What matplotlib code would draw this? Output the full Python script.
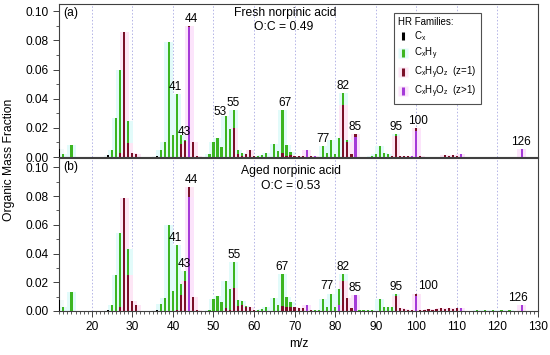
import numpy as np
import matplotlib.pyplot as plt
from matplotlib.lines import Line2D
from matplotlib.ticker import MultipleLocator, FormatStrFormatter

plt.rcParams['font.family'] = ['Liberation Sans', 'DejaVu Sans']
plt.rcParams['mathtext.fontset'] = 'custom'
plt.rcParams['mathtext.rm'] = 'Liberation Sans'

# m/z axis
mz = np.arange(12, 131)

# ---- (a) fresh norpinic acid, values per family (sparse: m/z, fraction)
fresh_cx_mz = [12, 24, 36]
fresh_cx = [0.0055, 0.0012, 0.0007]

fresh_hy_mz = [13, 15, 25, 26, 27, 29, 37, 38, 39, 40, 41, 42, 43, 49, 50, 51, 52, 53, 54, 55,
               56, 57, 61, 62, 63, 65, 66, 67, 68, 69, 77, 78, 79, 80, 81, 82, 83, 89, 90, 91,
               92, 93, 95]
fresh_hy = [0.002, 0.008, 0.005, 0.027, 0.057, 0.015, 0.005, 0.0105, 0.079, 0.015, 0.043, 0.006,
            0.001, 0.002, 0.010, 0.013, 0.007, 0.028, 0.019, 0.012, 0.003, 0.002, 0.001, 0.0015,
            0.0025, 0.009, 0.004, 0.029, 0.007, 0.002, 0.0076, 0.003, 0.012, 0.002, 0.013, 0.008,
            0.001, 0.001, 0.002, 0.0076, 0.003, 0.002, 0.0015]

fresh_o1_mz = [27, 28, 29, 30, 31, 42, 43, 44, 46, 45, 55, 56, 57, 58, 59, 60, 67, 68, 69, 70,
               71, 72, 74, 82, 83, 84, 85, 94, 95, 96, 97, 98, 100, 101, 107, 108, 109, 110]
fresh_o1 = [0.003, 0.086, 0.0095, 0.0025, 0.002, 0.009, 0.011, 0.001, 0.001, 0.010, 0.020, 0.002,
            0.001, 0.002, 0.0045, 0.001, 0.003, 0.001, 0.0015, 0.001, 0.001, 0.001, 0.001, 0.036,
            0.0105, 0.002, 0.002, 0.001, 0.0145, 0.001, 0.001, 0.001, 0.002, 0.001, 0.0015, 0.001,
            0.0015, 0.001]

fresh_oz_mz = [44, 73, 75, 85, 99, 100, 111, 126]
fresh_oz = [0.089, 0.0045, 0.001, 0.014, 0.001, 0.018, 0.002, 0.0055]

# ---- (b) aged norpinic acid
aged_cx_mz = [12, 24, 36]
aged_cx = [0.0075, 0.001, 0.0007]

aged_hy_mz = [13, 15, 25, 26, 27, 29, 37, 38, 39, 40, 41, 42, 43, 49, 50, 51, 52, 53, 54, 55,
              56, 57, 58, 61, 62, 63, 65, 66, 67, 68, 69, 75, 76, 77, 78, 79, 80, 81, 82, 86,
              87, 88, 89, 91, 92, 93, 94, 95, 115, 117, 119, 121, 123]
aged_hy = [0.003, 0.013, 0.0045, 0.025, 0.051, 0.018, 0.0046, 0.009, 0.060, 0.014, 0.045, 0.008,
           0.007, 0.001, 0.0086, 0.0104, 0.0063, 0.019, 0.0145, 0.018, 0.004, 0.003, 0.001, 0.001,
           0.0015, 0.003, 0.0088, 0.004, 0.022, 0.007, 0.004, 0.001, 0.001, 0.008, 0.003, 0.0116,
           0.003, 0.0105, 0.0045, 0.001, 0.001, 0.001, 0.001, 0.008, 0.003, 0.003, 0.0025, 0.001,
           0.0005, 0.0005, 0.0005, 0.0005, 0.0005]

aged_o1_mz = [27, 28, 29, 30, 31, 41, 42, 43, 44, 45, 46, 53, 54, 55, 56, 57, 58, 59, 60, 67,
              68, 69, 70, 71, 72, 74, 82, 83, 84, 95, 96, 97, 98, 99, 100, 101, 102, 103, 104,
              105, 106, 107, 108, 109, 110]
aged_o1 = [0.003, 0.0786, 0.025, 0.0067, 0.004, 0.001, 0.011, 0.021, 0.007, 0.0095, 0.001, 0.002,
           0.001, 0.016, 0.0035, 0.004, 0.0025, 0.003, 0.001, 0.0035, 0.0025, 0.0025, 0.003,
           0.002, 0.002, 0.001, 0.021, 0.0088, 0.002, 0.0105, 0.002, 0.0015, 0.001, 0.001, 0.001,
           0.001, 0.001, 0.0015, 0.001, 0.0015, 0.002, 0.0015, 0.002, 0.0015, 0.002]

aged_oz_mz = [44, 73, 81, 85, 100, 111, 126]
aged_oz = [0.079, 0.004, 0.0045, 0.011, 0.0105, 0.002, 0.004]

family_names = [r'C$_\mathrm{x}$', r'C$_\mathrm{x}$H$_\mathrm{y}$',
                r'C$_\mathrm{x}$H$_\mathrm{y}$O$_\mathrm{z}$  (z=1)',
                r'C$_\mathrm{x}$H$_\mathrm{y}$O$_\mathrm{z}$  (z>1)']

fresh_labels = [41, 43, 44, 53, 55, 67, 77, 82, 85, 95, 100, 126]
aged_labels = [41, 43, 44, 55, 67, 77, 82, 85, 95, 100, 126]

# styling
bar_colors = {'cx': '#000000', 'hy': '#3cb521', 'o1': '#7a1028', 'oz': '#a53ad8'}
halo_colors = {'cx': '#f2fafa', 'hy': '#e2fbfa', 'o1': '#fde6f5', 'oz': '#fce4fb'}
fresh_offsets = {41: (-0.4, 0.0), 43: (-0.3, 0.0), 44: (0.5, 0.0), 53: (-1.4, -0.002),
                 55: (-0.2, 0.0), 67: (0.6, 0.0), 100: (0.5, 0.0), 126: (-0.3, 0.0)}
aged_offsets = {41: (-0.4, 0.0), 43: (-0.3, 0.0), 44: (0.5, 0.0), 77: (1.0, 0.0045),
                100: (2.8, 0.0012), 126: (-1.0, 0.0)}


def full(idx, vals):
    arr = np.zeros(len(mz))
    for m, v in zip(idx, vals):
        arr[m - 12] += v
    return arr


def draw_panel(ax, fams, labels, offsets, ymax):
    order = ['cx', 'oz', 'o1', 'hy']
    bottom = np.zeros(len(mz))
    for key in order:
        vals = fams[key]
        ax.bar(mz, vals, bottom=bottom, width=2.2, color=halo_colors[key], linewidth=0, zorder=1)
        bottom = bottom + vals
    bottom = np.zeros(len(mz))
    for key in order:
        vals = fams[key]
        ax.bar(mz, vals, bottom=bottom, width=0.55, color=bar_colors[key], linewidth=0, zorder=3)
        bottom = bottom + vals
    for m in labels:
        dx, dy = offsets.get(m, (0.0, 0.0))
        ax.text(m + dx, bottom[m - 12] + 0.0008 + dy, str(m), ha='center', va='bottom',
                fontsize=8.5, zorder=4)
    ax.set_xlim(12, 130)
    ax.set_ylim(0, ymax)
    ax.xaxis.set_major_locator(MultipleLocator(10))
    ax.xaxis.set_minor_locator(MultipleLocator(1))
    ax.yaxis.set_major_locator(MultipleLocator(0.02))
    ax.yaxis.set_minor_locator(MultipleLocator(0.01))
    ax.yaxis.set_major_formatter(FormatStrFormatter('%.2f'))
    ax.grid(axis='x', which='major', color='#b4b4e6', linestyle=(0, (1.5, 2)), linewidth=0.7, zorder=0)
    ax.set_axisbelow(True)
    for s in ax.spines.values():
        s.set_color('#404040')
        s.set_linewidth(0.8)
    ax.tick_params(axis='y', which='major', length=4, width=0.7, labelsize=8.6, color='#404040')
    ax.tick_params(axis='y', which='minor', length=2, width=0.6, color='#404040')
    ax.tick_params(axis='x', which='major', length=4, width=0.7, labelsize=8.6, color='#404040')
    ax.tick_params(axis='x', which='minor', length=2.5, width=0.6, color='#404040')


fresh = {'cx': full(fresh_cx_mz, fresh_cx), 'hy': full(fresh_hy_mz, fresh_hy),
         'o1': full(fresh_o1_mz, fresh_o1), 'oz': full(fresh_oz_mz, fresh_oz)}
aged = {'cx': full(aged_cx_mz, aged_cx), 'hy': full(aged_hy_mz, aged_hy),
        'o1': full(aged_o1_mz, aged_o1), 'oz': full(aged_oz_mz, aged_oz)}

fig = plt.figure(figsize=(5.5, 3.55), dpi=100)
ax1 = fig.add_axes([0.1078, 0.5577, 0.8704, 0.431])
ax2 = fig.add_axes([0.1078, 0.124, 0.8704, 0.431])

draw_panel(ax1, fresh, fresh_labels, fresh_offsets, 0.105)
draw_panel(ax2, aged, aged_labels, aged_offsets, 0.1065)
ax1.tick_params(axis='x', which='both', length=0, labelbottom=False)

ax1.text(0.008, 0.94, '(a)', transform=ax1.transAxes, va='center', fontsize=8.7)
ax2.text(0.008, 0.94, '(b)', transform=ax2.transAxes, va='center', fontsize=8.7)
ax1.text(0.471, 0.94, 'Fresh norpinic acid', transform=ax1.transAxes, ha='center', va='center', fontsize=8.7)
ax1.text(0.468, 0.85, 'O:C = 0.49', transform=ax1.transAxes, ha='center', va='center', fontsize=8.7)
ax2.text(0.484, 0.915, 'Aged norpinic acid', transform=ax2.transAxes, ha='center', va='center', fontsize=8.7)
ax2.text(0.484, 0.82, 'O:C = 0.53', transform=ax2.transAxes, ha='center', va='center', fontsize=8.7)

ax2.set_xlabel('m/z', fontsize=8.7, labelpad=3)
fig.text(0.016, 0.55, 'Organic Mass Fraction', rotation=90, ha='center', va='center', fontsize=8.7)

handles = []
for key in ['cx', 'hy', 'o1', 'oz']:
    halo = Line2D([], [], marker='s', linestyle='none', markersize=6.5,
                  markerfacecolor=halo_colors[key] if key != 'cx' else 'white',
                  markeredgecolor='none')
    mark = Line2D([], [], marker='|', linestyle='none', markersize=5.5, markeredgewidth=2.2,
                  color=bar_colors[key])
    handles.append((halo, mark))
leg = ax1.legend(handles, family_names, title='HR Families:', loc='upper left',
                 bbox_to_anchor=(0.689, 0.975), fontsize=7, title_fontsize=7,
                 alignment='left', handlelength=1.0, handletextpad=0.6, labelspacing=0.25,
                 borderpad=0.45, fancybox=False, framealpha=1, edgecolor='#505050')
leg.get_frame().set_linewidth(0.8)
leg.set_zorder(5)

fig.savefig('out.png', dpi=100)
